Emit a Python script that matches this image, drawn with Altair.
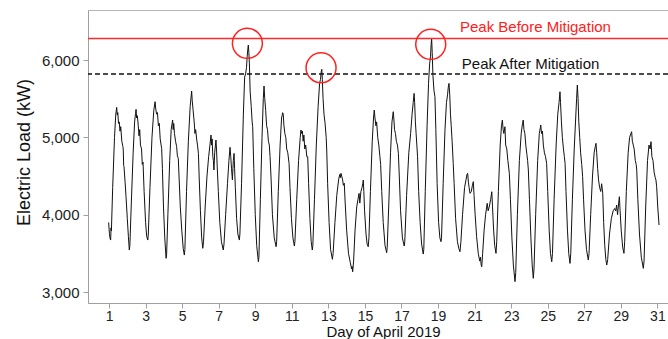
import altair as alt
import pandas as pd

# (day of April, electric load kW), grouped by week
week1 = [
    (0.98, 3900), (1.02, 3760), (1.06, 3690), (1.09, 3672), (1.11, 3830), (1.13, 3790),
    (1.20, 4350), (1.30, 5000), (1.37, 5300), (1.42, 5388), (1.45, 5290), (1.48, 5320),
    (1.52, 5180), (1.56, 5200), (1.60, 5080), (1.64, 5138), (1.70, 4950), (1.76, 4880),
    (1.78, 4836), (1.80, 4640), (1.82, 4620), (1.88, 4420), (1.93, 4232), (2.00, 3950),
    (2.06, 3715), (2.11, 3543),
    (2.14, 3600), (2.22, 4150), (2.32, 4800), (2.40, 5200), (2.45, 5310), (2.48, 5362),
    (2.51, 5250), (2.55, 5280), (2.60, 5150), (2.64, 5020), (2.68, 5100), (2.72, 4900),
    (2.78, 4850), (2.82, 4650), (2.86, 4680), (2.92, 4300), (3.00, 3900), (3.06, 3720),
    (3.12, 3672),
    (3.15, 3750), (3.24, 4350), (3.35, 5000), (3.45, 5350), (3.52, 5461), (3.55, 5380),
    (3.60, 5300), (3.65, 5320), (3.70, 5150), (3.75, 5181), (3.80, 4980), (3.85, 4900),
    (3.88, 4858), (3.92, 4600), (3.98, 4100), (4.05, 3700), (4.12, 3436),
    (4.15, 3480), (4.22, 4000), (4.32, 4700), (4.40, 5100), (4.45, 5180), (4.48, 5224),
    (4.51, 5100), (4.54, 5180), (4.58, 5050), (4.64, 4950), (4.70, 4880), (4.74, 4760),
    (4.79, 4729), (4.83, 4500), (4.90, 4100), (4.98, 3800), (5.06, 3560), (5.12, 3478),
    (5.15, 3550), (5.24, 4300), (5.34, 4950), (5.44, 5400), (5.52, 5599), (5.55, 5480),
    (5.60, 5350), (5.66, 5200), (5.70, 5050), (5.74, 5100), (5.80, 4966), (5.84, 4900),
    (5.89, 4793), (5.93, 4500), (6.00, 4050), (6.07, 3700), (6.13, 3565),
    (6.17, 3650), (6.26, 4100), (6.36, 4500), (6.45, 4750), (6.52, 4900), (6.58, 5030),
    (6.61, 4900), (6.64, 4980), (6.68, 4750), (6.71, 4700), (6.74, 4578), (6.78, 4800),
    (6.85, 4966), (6.88, 4850), (6.92, 4620), (6.98, 4300), (7.06, 3900), (7.15, 3650),
    (7.25, 3543),
    (7.29, 3620), (7.38, 4000), (7.48, 4400), (7.56, 4700), (7.62, 4871), (7.66, 4750),
    (7.70, 4600), (7.75, 4450), (7.80, 4700), (7.84, 4793), (7.87, 4600), (7.91, 4350),
    (7.98, 3950), (8.05, 3750), (8.13, 3672),
]
week2 = [
    (8.16, 3750), (8.25, 4400), (8.35, 5300), (8.42, 5780), (8.47, 5820), (8.52, 5900),
    (8.56, 6050), (8.59, 6130), (8.62, 6194), (8.65, 6100), (8.68, 5950), (8.72, 5600),
    (8.78, 5400), (8.83, 5200), (8.86, 5138), (8.92, 4600), (9.00, 4000), (9.08, 3600),
    (9.17, 3392),
    (9.20, 3450), (9.28, 4200), (9.37, 5000), (9.44, 5500), (9.48, 5664), (9.52, 5500),
    (9.57, 5350), (9.62, 5150), (9.67, 5100), (9.72, 4950), (9.77, 4900), (9.81, 4750),
    (9.86, 4500), (9.94, 4000), (10.04, 3700), (10.14, 3586),
    (10.17, 3650), (10.26, 4300), (10.36, 4900), (10.44, 5250), (10.50, 5319), (10.53, 5300),
    (10.57, 5150), (10.62, 5050), (10.67, 5000), (10.72, 4850), (10.78, 4800), (10.85, 4664),
    (10.90, 4350), (10.98, 3950), (11.06, 3700), (11.14, 3595),
    (11.17, 3650), (11.27, 4200), (11.37, 4700), (11.46, 5000), (11.50, 5095), (11.54, 5050),
    (11.58, 5080), (11.62, 4950), (11.66, 5030), (11.71, 4850), (11.76, 4900), (11.82, 4750),
    (11.87, 4750), (11.92, 4400), (11.99, 3950), (12.06, 3650), (12.12, 3543),
    (12.15, 3600), (12.24, 4200), (12.34, 4900), (12.44, 5400), (12.52, 5700), (12.57, 5750),
    (12.61, 5850), (12.64, 5880), (12.67, 5750), (12.71, 5500), (12.76, 5300), (12.82, 5181),
    (12.88, 5000), (12.91, 4836), (12.96, 4400), (13.04, 3900), (13.12, 3550), (13.22, 3423),
    (13.26, 3500), (13.36, 3900), (13.46, 4250), (13.56, 4450), (13.62, 4520), (13.66, 4480),
    (13.69, 4535), (13.73, 4500), (13.78, 4450), (13.82, 4380), (13.87, 4406), (13.92, 4150),
    (14.00, 3800), (14.10, 3500), (14.20, 3380), (14.27, 3300), (14.30, 3330), (14.33, 3262),
    (14.38, 3400), (14.46, 3800), (14.55, 4100), (14.62, 4200), (14.68, 4276), (14.72, 4150),
    (14.78, 4300), (14.84, 4350), (14.88, 4400), (14.91, 4448), (14.94, 4300), (14.98, 4050),
    (15.06, 3750), (15.12, 3620), (15.18, 3586),
]
week3 = [
    (15.22, 3700), (15.30, 4300), (15.40, 4950), (15.47, 5250), (15.51, 5353), (15.55, 5250),
    (15.60, 5150), (15.64, 5200), (15.70, 5000), (15.76, 4900), (15.82, 4750), (15.86, 4650),
    (15.92, 4300), (16.00, 3900), (16.10, 3600), (16.19, 3509),
    (16.22, 3580), (16.30, 4100), (16.40, 4800), (16.48, 5200), (16.55, 5332), (16.58, 5250),
    (16.62, 5100), (16.67, 5050), (16.72, 4950), (16.78, 4900), (16.83, 4793), (16.88, 4500),
    (16.95, 4050), (17.05, 3700), (17.15, 3595),
    (17.18, 3650), (17.28, 4250), (17.40, 4800), (17.50, 5050), (17.58, 5300), (17.64, 5450),
    (17.69, 5569), (17.72, 5450), (17.76, 5200), (17.80, 5050), (17.84, 4900), (17.88, 4750),
    (17.94, 4300), (18.02, 3900), (18.10, 3620), (18.19, 3491),
    (18.22, 3550), (18.30, 4300), (18.40, 5150), (18.48, 5700), (18.54, 5950), (18.59, 6050),
    (18.62, 6200), (18.65, 6280), (18.68, 6100), (18.72, 5800), (18.78, 5600), (18.83, 5526),
    (18.88, 5100), (18.95, 4400), (19.03, 3900), (19.10, 3700), (19.16, 3651),
    (19.19, 3700), (19.28, 4400), (19.38, 5100), (19.46, 5450), (19.52, 5550), (19.56, 5650),
    (19.60, 5698), (19.64, 5550), (19.68, 5300), (19.72, 5150), (19.77, 4950), (19.83, 4664),
    (19.88, 4400), (19.96, 3950), (20.06, 3650), (20.14, 3560), (20.20, 3521),
    (20.25, 3650), (20.34, 4000), (20.45, 4350), (20.53, 4450), (20.58, 4520), (20.62, 4535),
    (20.66, 4420), (20.70, 4350), (20.75, 4276), (20.82, 4300), (20.88, 4380), (20.93, 4427),
    (20.97, 4250), (21.03, 4000), (21.11, 3715), (21.20, 3500), (21.28, 3400), (21.32, 3450),
    (21.36, 3350), (21.39, 3327),
    (21.44, 3500), (21.52, 3800), (21.60, 4000), (21.66, 4100), (21.69, 4147), (21.74, 4050),
    (21.80, 4100), (21.88, 4200), (21.94, 4297), (21.98, 4100), (22.04, 3800), (22.10, 3600),
    (22.17, 3500),
]
week4 = [
    (22.21, 3650), (22.30, 4300), (22.40, 4900), (22.47, 5150), (22.52, 5224), (22.56, 5100),
    (22.60, 5050), (22.66, 5138), (22.70, 4900), (22.76, 4850), (22.82, 4700), (22.90, 4535),
    (22.96, 4200), (23.04, 3700), (23.12, 3350), (23.21, 3134),
    (23.25, 3250), (23.34, 4000), (23.45, 4700), (23.55, 5050), (23.62, 5180), (23.66, 5224),
    (23.70, 5100), (23.75, 5050), (23.80, 4900), (23.86, 4780), (23.90, 4700), (23.94, 4578),
    (24.00, 4200), (24.08, 3700), (24.15, 3350), (24.21, 3177),
    (24.25, 3300), (24.34, 4000), (24.45, 4700), (24.54, 5050), (24.60, 5130), (24.62, 5160),
    (24.66, 5050), (24.71, 5080), (24.76, 4900), (24.82, 4800), (24.88, 4750), (24.94, 4664),
    (25.00, 4300), (25.08, 3800), (25.15, 3500), (25.22, 3392),
    (25.26, 3500), (25.35, 4200), (25.46, 4900), (25.55, 5300), (25.62, 5450), (25.67, 5590),
    (25.70, 5450), (25.75, 5200), (25.80, 5000), (25.86, 4850), (25.91, 4750), (25.95, 4664),
    (26.00, 4300), (26.08, 3800), (26.15, 3500), (26.22, 3370),
    (26.26, 3500), (26.35, 4200), (26.45, 4850), (26.53, 5250), (26.58, 5500), (26.62, 5677),
    (26.66, 5500), (26.70, 5200), (26.75, 5000), (26.80, 4800), (26.86, 4650), (26.91, 4492),
    (26.96, 4200), (27.04, 3800), (27.12, 3550), (27.22, 3414),
    (27.26, 3500), (27.35, 4000), (27.45, 4500), (27.54, 4800), (27.60, 4880), (27.64, 4923),
    (27.68, 4800), (27.73, 4600), (27.78, 4450), (27.84, 4350), (27.90, 4300), (27.95, 4400),
    (28.01, 4276), (28.06, 3900), (28.12, 3600), (28.18, 3420), (28.23, 3349),
    (28.28, 3420), (28.38, 3750), (28.48, 3950), (28.58, 4050), (28.66, 4080), (28.72, 4050),
    (28.77, 4125), (28.82, 4000), (28.88, 4150), (28.92, 4233), (28.96, 4050), (29.02, 3800),
    (29.10, 3580), (29.17, 3500),
]
week5 = [
    (29.21, 3650), (29.30, 4300), (29.40, 4800), (29.48, 5000), (29.55, 5050), (29.59, 5073),
    (29.63, 4950), (29.68, 4900), (29.73, 4850), (29.79, 4700), (29.84, 4650), (29.87, 4578),
    (29.93, 4200), (30.02, 3750), (30.12, 3450), (30.23, 3306),
    (30.27, 3400), (30.36, 4100), (30.46, 4700), (30.54, 4900), (30.60, 4850), (30.65, 4944),
    (30.70, 4750), (30.76, 4700), (30.82, 4550), (30.88, 4480), (30.92, 4450), (30.96, 4362),
    (31.02, 4100), (31.09, 3866),
]

peak_before = 6280
peak_after = 5820

circle_day = [8.57, 12.60, 18.60]
circle_load = [6216, 5900, 6203]

label_text = ["Peak Before Mitigation", "Peak After Mitigation"]
label_day = [20.2, 20.3]
label_load = [6362, 5884]
label_color = ["#ff2020", "#111111"]

x_ticks = list(range(1, 32, 2))
y_ticks = [3000, 4000, 5000, 6000]

series = pd.DataFrame(week1 + week2 + week3 + week4 + week5, columns=["day", "load"])

xscale = alt.Scale(domain=[-0.15, 31.58], nice=False, zero=False)
yscale = alt.Scale(domain=[2858, 6647], nice=False, zero=False)

FONT = "Liberation Sans"

line = alt.Chart(series).mark_line(color="#111111", strokeWidth=1).encode(
    x=alt.X("day:Q", scale=xscale,
            axis=alt.Axis(values=x_ticks, tickCount=40, title="Day of April 2019", grid=False,
                          titleX=295, titleY=33, titleBaseline="alphabetic",
                          titleFontSize=15, titleFontWeight="normal", labelFontSize=14,
                          tickSize=5, labelPadding=1, labelFlush=False,
                          labelOverlap=False)),
    y=alt.Y("load:Q", scale=yscale,
            axis=alt.Axis(values=y_ticks, tickCount=10, format=",d", title="Electric Load (kW)",
                          grid=False,
                          titleX=-64, titleY=142, titleAlign="center", titleBaseline="middle",
                          titleAngle=270, titleFontSize=18, titleFontWeight="normal",
                          labelFontSize=15, tickSize=5, labelPadding=4,
                          labelOverlap=False)),
)

rule_before = alt.Chart(pd.DataFrame({"load": [peak_before]})).mark_rule(
    color="#ff2a2a", strokeWidth=1.5).encode(y=alt.Y("load:Q", scale=yscale))
rule_after = alt.Chart(pd.DataFrame({"load": [peak_after]})).mark_rule(
    color="#111111", strokeWidth=1.5, strokeDash=[5, 3]).encode(y=alt.Y("load:Q", scale=yscale))

circles = alt.Chart(pd.DataFrame({"day": circle_day, "load": circle_load})).mark_point(
    shape="circle", filled=False, size=900, color="#ff2020", strokeWidth=1.5, opacity=1
).encode(x=alt.X("day:Q", scale=xscale), y=alt.Y("load:Q", scale=yscale))

labels = alt.Chart(pd.DataFrame({"day": label_day, "load": label_load,
                                 "text": label_text, "color": label_color})).mark_text(
    align="left", baseline="alphabetic", fontSize=15, font=FONT
).encode(x=alt.X("day:Q", scale=xscale), y=alt.Y("load:Q", scale=yscale),
         text="text:N", color=alt.Color("color:N", scale=None))

chart = alt.layer(line, rule_before, rule_after, circles, labels).properties(
    width=580, height=293,
    autosize=alt.AutoSizeParams(type="none"),
    padding={"left": 88, "top": 10, "right": 0, "bottom": 36},
).configure(font=FONT).configure_view(
    stroke="#b5b5b5", strokeWidth=1
).configure_axis(
    domainColor="#a0a0a0", tickColor="#a0a0a0", labelColor="#222222", titleColor="#111111",
    labelFont=FONT, titleFont=FONT
)

chart.save("out.html", embed_options={"renderer": "svg", "actions": False})
